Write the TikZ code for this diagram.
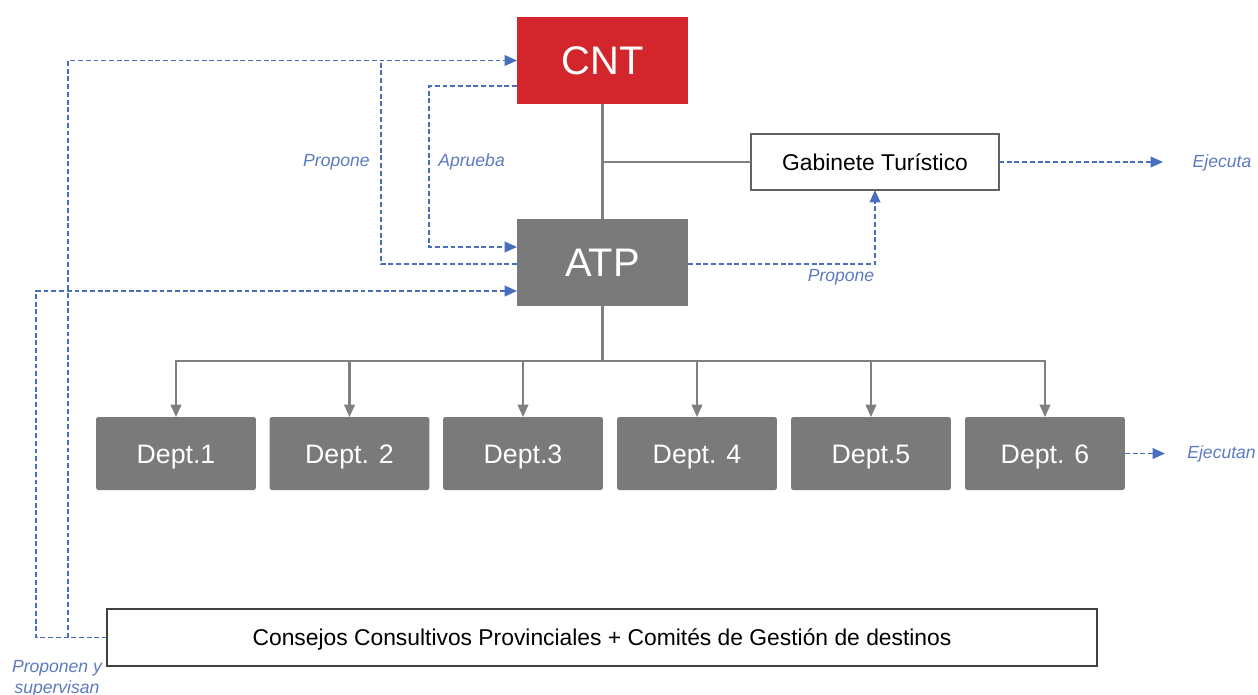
\documentclass[tikz,border=0pt]{standalone}
\usepackage{fontspec}
\setmainfont{Liberation Sans}
\usetikzlibrary{arrows.meta}
\definecolor{cntred}{RGB}{210,38,44}
\definecolor{boxgray}{RGB}{122,122,122}
\definecolor{linegray}{RGB}{128,128,128}
\definecolor{dashblue}{RGB}{72,110,190}
\definecolor{labelblue}{RGB}{92,122,192}
\begin{document}
\begin{tikzpicture}[x=0.02cm,y=-0.02cm,
  bigbox/.style={fill=#1,text=white,inner sep=0pt,outer sep=0pt,minimum width=3.42cm,minimum height=1.74cm,text height=16.25pt,text depth=0pt,font=\fontsize{22.7}{26}\selectfont},
  deptbox/.style={fill=boxgray,text=white,inner sep=0pt,outer sep=0pt,minimum width=3.2cm,minimum height=1.46cm,rounded corners=1pt,text height=10.9pt,text depth=0pt,font=\fontsize{15.2}{18}\selectfont},
  whitebox/.style={draw=#1,fill=white,line width=0.8pt,inner sep=0pt,outer sep=0pt,text height=9.3pt,text depth=0pt,font=\fontsize{13}{16}\selectfont},
  grayline/.style={draw=linegray,line width=1.2pt},
  grayarrow/.style={grayline,-{Triangle[length=7pt,width=6pt]}},
  blueline/.style={draw=dashblue,line width=1.05pt,dash pattern=on 2.8pt off 1.6pt},
  bluearrow/.style={blueline,-{Triangle[length=7pt,width=6pt]}},
  tag/.style={text=labelblue,font=\fontsize{10}{11.9}\selectfont\itshape,inner sep=0pt}
]
\useasboundingbox (0,0) rectangle (1258,694);

\node[bigbox=cntred] (cnt) at (602.5,60.5) {CNT};
\node[bigbox=boxgray] (atp) at (602.5,262.5) {ATP};
\node[whitebox=black!62,minimum width=4.96cm,minimum height=1.12cm] (gab) at (875,162) {Gabinete Turístico};
\node[whitebox=black!75,minimum width=19.8cm,minimum height=1.14cm] (ccp) at (602,637.5) {Consejos Consultivos Provinciales + Comités de Gestión de destinos};

\node[deptbox] (d1) at (176,453.5) {Dept.1};
\node[deptbox] (d2) at (349.5,453.5) {Dept. 2};
\node[deptbox] (d3) at (523,453.5) {Dept.3};
\node[deptbox] (d4) at (697,453.5) {Dept. 4};
\node[deptbox] (d5) at (871,453.5) {Dept.5};
\node[deptbox] (d6) at (1045,453.5) {Dept. 6};

\draw[grayline] (cnt.south) -- (atp.north);
\draw[grayline] (gab.west) -- (gab.west -| cnt.south);
\coordinate (bus) at (602.5,361);
\draw[grayline] (atp.south) -- (bus);
\draw[grayarrow] (bus) -| (d1.north);
\draw[grayarrow] (bus) -| (d2.north);
\draw[grayarrow] (bus) -| (d3.north);
\draw[grayarrow] (bus) -| (d4.north);
\draw[grayarrow] (bus) -| (d5.north);
\draw[grayarrow] (bus) -| (d6.north);

\coordinate (outer) at (68,0);
\coordinate (outmost) at (36,0);
\coordinate (propx) at (381,0);
\coordinate (aprx) at (429,0);
\coordinate (cntout) at ([yshift=-0.51cm]cnt.west);
\coordinate (atpin) at ([yshift=0.31cm]atp.west);
\coordinate (atplow) at ([yshift=-0.57cm]atp.west);
\coordinate (atpout) at ([yshift=-0.03cm]atp.west);
\coordinate (atpright) at ([yshift=-0.03cm]atp.east);
\coordinate (ejecuta) at (1163,162);
\coordinate (ejecutan) at (1165,453.5);

\draw[bluearrow] (ccp.west) -- (ccp.west -| outer) |- (cnt.west);
\draw[bluearrow] (ccp.west) -- (ccp.west -| outmost) |- (atplow);
\draw[blueline] (atpout) -| (propx |- cnt.west);
\draw[bluearrow] (cntout) -- (cntout -| aprx) |- (atpin);
\draw[bluearrow] (atpright) -| (gab.south);
\draw[bluearrow] (gab.east) -- (ejecuta);
\draw[bluearrow] (d6.east) -- (ejecutan);

\node[tag,anchor=east] (lprop) at (370,162) {Propone};
\node[tag,anchor=west] (laprueba) at (438,162) {Aprueba};
\node[tag] (lpropgab) at (841,277) {Propone};
\node[tag] (lejecuta) at (1222,163) {Ejecuta};
\node[tag,anchor=west] (lejecutan) at (1187,454) {Ejecutan};
\node[tag,align=center] (lproponen) at (57,679) {Proponen y\\supervisan};
\end{tikzpicture}
\end{document}
